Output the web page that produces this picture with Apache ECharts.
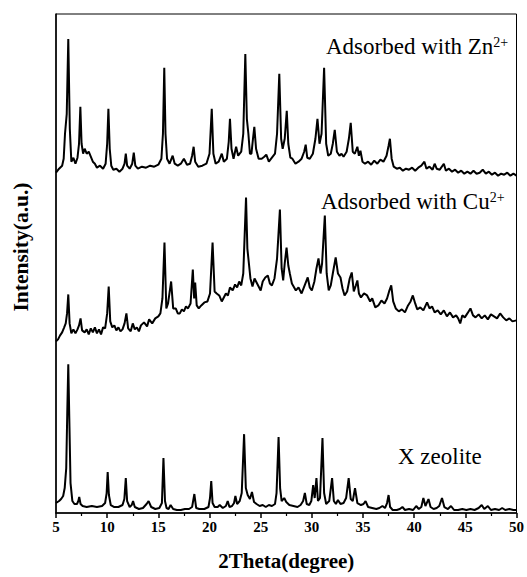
<!DOCTYPE html>
<html>
<head>
<meta charset="utf-8">
<script src="https://cdn.jsdelivr.net/npm/echarts@6/dist/echarts.min.js"></script>
<style>html,body{margin:0;padding:0;background:#fff}#c{width:527px;height:577px}</style>
</head>
<body>
<div id="c"></div>
<script>
// Tick labels of the 2Theta axis
const xTicks = [5, 10, 15, 20, 25, 30, 35, 40, 45, 50];
const xTitle = '2Theta(degree)';
const yTitle = 'Intensity(a.u.)';
const labelZn = ['Adsorbed with Zn', '2+'];
const labelCu = ['Adsorbed with Cu', '2+'];
const labelX = 'X zeolite';

// [2Theta, intensity (a.u., stacked offsets)]
const znPattern = [
[5.0,341],[5.3,345],[5.6,348],[5.75,355],[5.88,380],[6.05,400],[6.2,475],[6.35,385],[6.5,352],[6.7,356],[6.9,350],[7.1,356],[7.25,370],[7.38,407],[7.5,370],[7.65,360],[7.8,365],[8.0,360],[8.2,362],[8.4,357],[8.6,352],[8.8,350],[9.0,346],[9.3,348],[9.6,345],[9.85,350],[10.0,370],[10.12,405],[10.25,365],[10.4,348],[10.6,344],[10.9,345],[11.2,342],[11.5,345],[11.7,350],[11.82,360],[11.95,348],[12.2,345],[12.45,350],[12.6,361],[12.75,348],[13.0,345],[13.4,347],[13.8,346],[14.2,348],[14.6,347],[15.0,349],[15.3,355],[15.45,380],[15.58,446],[15.7,380],[15.85,355],[16.1,350],[16.4,358],[16.6,350],[16.9,348],[17.2,350],[17.5,355],[17.8,349],[18.1,350],[18.3,358],[18.45,367],[18.6,352],[18.9,347],[19.3,348],[19.7,350],[20.0,360],[20.22,405],[20.38,360],[20.6,350],[20.9,352],[21.2,360],[21.4,352],[21.7,355],[21.88,372],[22.0,395],[22.15,365],[22.35,355],[22.6,367],[22.8,358],[23.1,362],[23.3,380],[23.5,460],[23.65,395],[23.8,380],[23.95,360],[24.1,360],[24.25,375],[24.38,387],[24.55,365],[24.8,355],[25.1,355],[25.35,357],[25.55,359],[25.8,352],[26.1,356],[26.4,360],[26.6,380],[26.82,440],[27.0,375],[27.15,365],[27.35,375],[27.55,403],[27.7,370],[27.9,356],[28.1,355],[28.4,350],[28.7,352],[29.0,355],[29.25,362],[29.4,369],[29.55,356],[29.8,355],[30.1,360],[30.35,375],[30.55,395],[30.75,370],[30.95,380],[31.2,446],[31.4,370],[31.6,358],[31.85,360],[32.05,370],[32.24,384],[32.45,362],[32.7,358],[32.9,360],[33.1,357],[33.4,362],[33.62,375],[33.8,391],[34.0,362],[34.2,360],[34.45,367],[34.6,358],[34.75,363],[34.95,352],[35.2,350],[35.5,352],[35.8,349],[36.1,353],[36.4,350],[36.7,354],[37.0,352],[37.3,358],[37.5,368],[37.63,375],[37.8,355],[38.0,347],[38.3,345],[38.6,346],[38.9,343],[39.2,345],[39.5,344],[39.8,346],[40.1,343],[40.4,346],[40.7,348],[41.0,352],[41.2,345],[41.5,347],[41.8,344],[42.0,350],[42.2,345],[42.5,344],[42.9,350],[43.1,343],[43.4,345],[43.7,342],[44.0,344],[44.3,341],[44.6,343],[44.9,340],[45.2,342],[45.5,340],[45.8,343],[46.1,340],[46.4,341],[46.7,344],[47.0,340],[47.3,342],[47.6,339],[47.9,341],[48.2,338],[48.5,340],[48.8,339],[49.1,341],[49.4,338],[49.7,340],[50.0,338]
];

const cuPattern = [
[5.0,172],[5.2,174],[5.4,178],[5.6,181],[5.8,186],[5.95,190],[6.08,200],[6.2,219],[6.33,190],[6.5,180],[6.7,184],[6.9,180],[7.1,184],[7.25,188],[7.4,195],[7.55,183],[7.8,181],[8.0,184],[8.2,179],[8.4,185],[8.6,181],[8.8,186],[9.0,180],[9.2,184],[9.4,179],[9.6,186],[9.8,185],[10.0,200],[10.15,227],[10.3,192],[10.5,186],[10.7,188],[10.9,183],[11.1,186],[11.3,182],[11.5,184],[11.7,190],[11.88,200],[12.05,185],[12.3,182],[12.5,190],[12.7,184],[12.9,186],[13.1,182],[13.3,188],[13.6,191],[13.9,187],[14.1,194],[14.4,190],[14.7,195],[15.0,197],[15.2,200],[15.4,215],[15.6,271],[15.78,205],[15.95,210],[16.25,232],[16.45,205],[16.7,205],[16.9,200],[17.1,200],[17.3,204],[17.5,202],[17.7,207],[17.9,205],[18.15,210],[18.37,244],[18.5,215],[18.6,231],[18.75,208],[18.95,205],[19.2,208],[19.5,211],[19.8,212],[20.05,220],[20.3,271],[20.5,222],[20.7,220],[20.95,218],[21.2,212],[21.4,216],[21.6,220],[21.8,218],[22.0,226],[22.27,223],[22.5,229],[22.7,226],[22.9,232],[23.1,228],[23.3,240],[23.57,316],[23.7,265],[23.82,253],[24.0,235],[24.2,227],[24.4,235],[24.6,231],[24.8,227],[25.0,223],[25.2,232],[25.45,236],[25.7,238],[25.9,230],[26.1,228],[26.35,235],[26.6,255],[26.88,304],[27.05,245],[27.2,233],[27.35,250],[27.53,266],[27.7,248],[27.85,240],[28.05,230],[28.44,223],[28.7,226],[29.0,220],[29.3,228],[29.6,236],[29.8,226],[30.0,223],[30.25,232],[30.45,245],[30.65,255],[30.85,240],[31.0,250],[31.27,298],[31.45,240],[31.65,223],[31.85,228],[32.05,240],[32.33,256],[32.55,240],[32.8,236],[33.0,225],[33.2,218],[33.45,222],[33.7,235],[33.9,241],[34.1,222],[34.3,228],[34.45,233],[34.6,220],[34.8,216],[35.1,220],[35.4,218],[35.7,212],[35.9,215],[36.2,206],[36.5,208],[36.8,213],[37.1,210],[37.35,215],[37.55,222],[37.76,228],[37.95,212],[38.2,205],[38.5,202],[38.8,204],[39.1,201],[39.4,208],[39.65,212],[39.87,218],[40.1,210],[40.3,204],[40.6,206],[40.9,203],[41.26,211],[41.5,205],[41.75,207],[42.0,201],[42.3,203],[42.6,199],[42.9,203],[43.2,197],[43.5,201],[43.8,196],[44.1,198],[44.3,195],[44.5,190],[44.7,198],[44.95,196],[45.2,200],[45.5,205],[45.75,198],[46.0,196],[46.3,199],[46.6,195],[46.9,198],[47.2,194],[47.5,199],[47.8,197],[48.1,195],[48.4,200],[48.7,196],[49.0,193],[49.3,195],[49.6,192],[50.0,193]
];

const xPattern = [
[5.0,10],[5.3,12],[5.5,14],[5.7,17],[5.85,25],[6.0,45],[6.1,100],[6.2,149],[6.3,95],[6.42,30],[6.6,12],[6.8,9],[7.05,9],[7.18,12],[7.27,16],[7.4,9],[7.6,7],[8.0,6],[8.5,7],[9.0,6],[9.5,7],[9.8,10],[9.95,20],[10.05,41],[10.17,18],[10.35,8],[10.7,6],[11.1,6],[11.5,8],[11.68,14],[11.82,35],[11.95,12],[12.2,6],[12.4,8],[12.53,12],[12.7,6],[13.1,4],[13.5,5],[13.85,9],[14.05,12],[14.3,6],[14.7,4],[15.1,5],[15.35,10],[15.5,55],[15.65,12],[15.8,5],[16.0,4],[16.2,8],[16.45,4],[16.8,3],[17.2,3],[17.6,4],[18.0,4],[18.3,6],[18.52,19],[18.7,5],[19.0,4],[19.5,4],[19.9,6],[20.05,15],[20.17,32],[20.3,10],[20.5,6],[20.8,6],[21.0,8],[21.3,5],[21.6,7],[21.78,12],[21.95,6],[22.2,7],[22.4,10],[22.53,17],[22.7,9],[22.95,12],[23.15,20],[23.38,79],[23.55,25],[23.73,18],[23.95,14],[24.15,21],[24.35,11],[24.6,9],[24.9,7],[25.2,8],[25.5,6],[25.8,8],[26.1,7],[26.4,9],[26.55,20],[26.75,76],[26.9,25],[27.05,12],[27.3,15],[27.5,11],[27.8,8],[28.2,7],[28.6,6],[28.9,8],[29.15,12],[29.32,20],[29.5,9],[29.75,8],[29.95,12],[30.13,28],[30.28,15],[30.45,35],[30.6,12],[30.8,15],[31.04,75],[31.2,20],[31.4,9],[31.7,12],[31.98,35],[32.15,12],[32.35,9],[32.55,13],[32.8,9],[33.1,10],[33.35,15],[33.6,35],[33.8,14],[34.0,12],[34.22,25],[34.45,10],[34.8,8],[35.05,9],[35.25,12],[35.5,6],[35.9,5],[36.3,4],[36.6,5],[36.9,7],[37.15,5],[37.35,10],[37.5,18],[37.65,6],[37.9,3],[38.3,3],[38.6,4],[38.85,6],[39.1,3],[39.5,4],[39.9,3],[40.2,7],[40.45,4],[40.7,6],[40.9,15],[41.1,7],[41.4,14],[41.6,6],[41.9,4],[42.2,5],[42.45,7],[42.72,15],[42.95,6],[43.3,4],[43.6,7],[43.9,3],[44.3,3],[44.7,4],[45.1,3],[45.5,4],[45.9,3],[46.3,5],[46.6,8],[46.85,4],[47.2,7],[47.5,3],[47.9,4],[48.3,3],[48.6,5],[48.9,3],[49.3,4],[49.7,3],[50.0,3]
];

const chart = echarts.init(document.getElementById('c'), null, {renderer: 'svg'});
const serif = '"Liberation Serif", "Times New Roman", serif';
const lineStyle = {color: '#000', width: 2};
function trace(name, data) {
  return {name, type: 'line', data, showSymbol: false, symbol: 'none', lineStyle, animation: false, z: 3};
}
function richLabel(parts, left, top) {
  return {
    type: 'text', left, top, z: 10,
    style: {
      text: '{a|' + parts[0] + '}{s|' + parts[1] + '}',
      rich: {
        a: {fontFamily: serif, fontSize: 23, fill: '#000', color: '#000'},
        s: {fontFamily: serif, fontSize: 14, fill: '#000', color: '#000', padding: [0, 0, 9, 0]}
      }
    }
  };
}
chart.setOption({
  animation: false,
  backgroundColor: '#fff',
  grid: {left: 56, right: 9, top: 14, bottom: 64, show: true, borderColor: '#000', borderWidth: 1},
  xAxis: {
    type: 'value', min: xTicks[0], max: xTicks[xTicks.length - 1], interval: 5,
    name: xTitle, nameLocation: 'middle', nameGap: 37,
    nameTextStyle: {fontFamily: serif, fontWeight: 'bold', fontSize: 21, color: '#000'},
    axisLine: {show: true, lineStyle: {color: '#000', width: 1.5}},
    axisTick: {show: true, inside: false, length: 5, lineStyle: {color: '#000', width: 1.5}},
    minorTick: {show: true, splitNumber: 2, length: 3, lineStyle: {color: '#000', width: 1.2}},
    axisLabel: {fontFamily: serif, fontWeight: 'bold', fontSize: 15, color: '#000', margin: 6},
    splitLine: {show: false}
  },
  yAxis: {
    type: 'value', min: 0, max: 500,
    axisLine: {show: true, lineStyle: {color: '#000', width: 1.5}},
    axisTick: {show: false}, axisLabel: {show: false}, splitLine: {show: false}
  },
  graphic: [
    {type: 'text', x: 21, y: 247, rotation: Math.PI / 2, z: 10,
     style: {text: yTitle, fontFamily: serif, fontWeight: 'bold', fontSize: 21.5, fill: '#000', align: 'center', verticalAlign: 'middle'}},
    richLabel(labelZn, 326, 35),
    richLabel(labelCu, 321, 190),
    {type: 'text', left: 398, top: 445, z: 10,
     style: {text: labelX, fontFamily: serif, fontSize: 23, fill: '#000'}}
  ],
  series: [trace('Zn', znPattern), trace('Cu', cuPattern), trace('X', xPattern)]
});
</script>
</body>
</html>
